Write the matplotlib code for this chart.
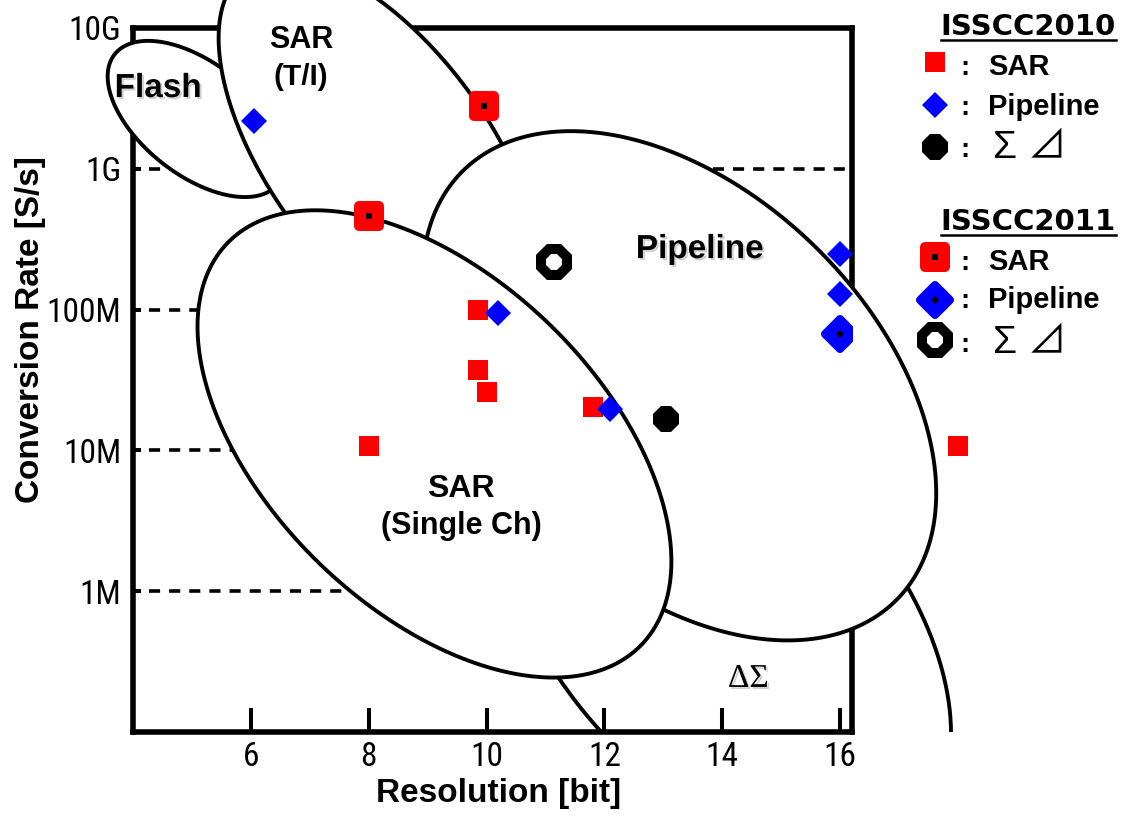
import numpy as np
import matplotlib
matplotlib.use("Agg")
import matplotlib.pyplot as plt
from matplotlib.lines import Line2D
from matplotlib.markers import MarkerStyle
from matplotlib.patches import Rectangle
import matplotlib.patheffects as pe

plt.rcParams['lines.scale_dashes'] = False
plt.rcParams['font.family'] = ['Liberation Sans', 'DejaVu Sans']

# ISSCC2010
sar10_bits = [9.85, 9.85, 10.0, 8.0, 11.8, 18.0]
sar10_rate = [100e6, 37e6, 26e6, 10.7e6, 20.5e6, 10.7e6]
pipe10_bits = [6.05, 10.2, 12.1, 16.0, 16.0]
pipe10_rate = [2.2e9, 94e6, 19.6e6, 248e6, 130e6]
ds10_bits = [13.05]
ds10_rate = [16.6e6]

# ISSCC2011
sar11_bits = [9.95, 8.0]
sar11_rate = [2.8e9, 460e6]
pipe11_bits = [16.0]
pipe11_rate = [67e6]
ds11_bits = [11.15]
ds11_rate = [218e6]

xticks = [6, 8, 10, 12, 14, 16]
yticks = [1e6, 1e7, 1e8, 1e9, 1e10]
ylabels = ['1M', '10M', '100M', '1G', '10G']

# architecture regions: centre (bit, log10 rate), semi-axes in bit units, tilt (deg)
regions = [
    ('flash', 5.078, 9.354, 1.770, 0.947, -38.3, 4),
    ('sar_ti', 8.191, 9.087, 3.879, 1.866, -53.9, 5),
    ('pipeline', 13.270, 7.459, 5.175, 3.299, -44.4, 6),
    ('sar_single', 9.115, 7.046, 4.894, 2.815, -44.2, 7),
]
deltasigma = (14.02, 5.817, 4.836, 2.848, -48.2)

W, H = 1123, 817
fig = plt.figure(figsize=(W/100, H/100), dpi=100)
ax = fig.add_axes([133/W, 85/H, 719/W, 704/H])
ax.set_yscale('log')
ax.set_xlim(4, 16.2)
ax.set_ylim(1e5, 1e10)

bb = ax.get_window_extent()
aspect = (bb.height/5.0)/(bb.width/12.2)


def outline(cx, cl, a, b, ang, n=500):
    t = np.linspace(0, 2*np.pi, n)
    th = np.radians(ang)
    du = a*np.cos(t)*np.cos(th) - b*np.sin(t)*np.sin(th)
    dv = a*np.cos(t)*np.sin(th) + b*np.sin(t)*np.cos(th)
    return cx + du, 10**(cl + dv/aspect)


for name, cx, cl, a, b, ang, z in regions:
    xx, yy = outline(cx, cl, a, b, ang)
    ax.fill(xx, yy, facecolor='white', edgecolor='black', lw=2.8,
            zorder=z, clip_on=False)

xx, yy = outline(*deltasigma)
ds_line, = ax.plot(xx, yy, color='black', lw=2.8, zorder=3)
ds_line.set_clip_path(Rectangle((0, 0), 2, 2, transform=ax.transAxes))

# axes frame / ticks
for sp in ax.spines.values():
    sp.set_linewidth(4)
ax.set_xticks(xticks)
ax.set_xticklabels([str(v) for v in xticks])
ax.set_yticks(yticks)
ax.set_yticklabels(ylabels)
ax.yaxis.set_minor_locator(matplotlib.ticker.NullLocator())
ax.tick_params(axis='x', direction='in', length=17, width=2.9, pad=6.5, labelsize=24)
ax.tick_params(axis='y', direction='in', length=6, width=2.9, pad=8.5, labelsize=24)
for lab in ax.get_xticklabels() + ax.get_yticklabels():
    lab.set_family(['Roboto Condensed', 'DejaVu Sans'])
ax.grid(axis='y', which='major', color='black', lw=2.6, linestyle=(3, (8, 6.5)))

ax.set_xlabel('Resolution [bit]', fontsize=24, fontweight='bold')
ax.xaxis.set_label_coords(0.509, -0.066)
ax.set_ylabel('Conversion Rate [S/s]', fontsize=24, fontweight='bold')
ax.yaxis.set_label_coords(-0.121, 0.571)

# data points
sq = MarkerStyle('s', joinstyle='round')
dm = MarkerStyle('D', joinstyle='round')
st = {
    'sar10': dict(marker='s', ms=14.4, mfc='red', mec='red', mew=0),
    'pipe10': dict(marker='D', ms=13.7, mfc='blue', mec='blue', mew=0),
    'ds10': dict(marker='8', ms=19.5, mfc='black', mec='black', mew=0),
    'sar11': dict(marker=sq, ms=14.4, mfc='red', mec='red', mew=7.2),
    'sar11c': dict(marker='s', ms=5, mfc='black', mec='black', mew=0),
    'pipe11': dict(marker=dm, ms=15.3, mfc='blue', mec='blue', mew=5.8),
    'pipe11c': dict(marker='D', ms=3.8, mfc='black', mec='black', mew=0),
    'ds11': dict(marker='8', ms=20, mfc='white', mec='black', mew=7.2),
}

ax.plot(sar10_bits, sar10_rate, ls='none', zorder=10, clip_on=False, **st['sar10'])
ax.plot(pipe10_bits, pipe10_rate, ls='none', zorder=11, clip_on=False, **st['pipe10'])
ax.plot(ds10_bits, ds10_rate, ls='none', zorder=10, **st['ds10'])
ax.plot(sar11_bits, sar11_rate, ls='none', zorder=10, **st['sar11'])
ax.plot(sar11_bits, sar11_rate, ls='none', zorder=12, **st['sar11c'])
ax.plot(pipe11_bits, pipe11_rate, ls='none', zorder=10, **st['pipe11'])
ax.plot(pipe11_bits, pipe11_rate, ls='none', zorder=12, **st['pipe11c'])
ax.plot(ds11_bits, ds11_rate, ls='none', zorder=10, **st['ds11'])

# region labels
shadow = [pe.withSimplePatchShadow(offset=(1.5, -1.5), shadow_rgbFace='0.6', alpha=0.45)]
lab = dict(ha='center', va='baseline', fontweight='bold', zorder=13)
ax.text(4.43, 10**9.51, 'Flash', fontsize=24, path_effects=shadow, clip_on=False, **lab)
ax.text(6.85, 10**9.858, 'SAR', fontsize=22, clip_on=False, **lab)
ax.text(6.85, 10**9.595, '(T/I)', fontsize=21.5, clip_on=False, **lab)
ax.text(13.62, 10**8.366, 'Pipeline', fontsize=24, path_effects=shadow, **lab)
ax.text(9.566, 10**6.669, 'SAR', fontsize=23, **lab)
ax.text(9.566, 10**6.406, '(Single Ch)', fontsize=22, **lab)
ax.text(14.44, 10**5.32, 'ΔΣ', fontsize=24, family='Liberation Serif',
        ha='center', va='baseline', zorder=13, path_effects=shadow)


# legend block on the right
def fx(x):
    return x/W


def fy(y):
    return 1 - y/H


def legend_mark(x, y, style):
    fig.add_artist(Line2D([fx(x)], [fy(y)], transform=fig.transFigure, ls='none', **st[style]))


renderer = fig.canvas.get_renderer()
for title, base in [('ISSCC2010', 35), ('ISSCC2011', 230)]:
    t = fig.text(fx(1116), fy(base), title, ha='right', va='baseline', fontsize=21,
                 fontweight='bold', family='DejaVu Sans')
    tb = t.get_window_extent(renderer)
    fig.add_artist(Line2D([tb.x0/W, tb.x1/W], [fy(base + 5)]*2,
                          transform=fig.transFigure, color='black', lw=1.8))

rows = [
    (62, 75, ['sar10'], 'SAR'),
    (105, 115, ['pipe10'], 'Pipeline'),
    (147, 157, ['ds10'], 'Σ ⊿'),
    (257, 270, ['sar11', 'sar11c'], 'SAR'),
    (300, 308, ['pipe11', 'pipe11c'], 'Pipeline'),
    (340, 352, ['ds11'], 'Σ ⊿'),
]
for yc, base, styles, name in rows:
    for s_ in styles:
        legend_mark(935, yc, s_)
    fig.text(fx(965), fy(base), ':', ha='center', va='baseline', fontsize=20, fontweight='bold')
    if name.startswith('Σ'):
        fig.text(fx(993), fy(base + 1), name, ha='left', va='baseline', fontsize=28,
                 family=['Liberation Sans', 'Noto Sans CJK JP', 'DejaVu Sans'])
    else:
        fig.text(fx(988), fy(base), name, ha='left', va='baseline', fontsize=21,
                 fontweight='bold')

fig.savefig('out.png', dpi=100)
